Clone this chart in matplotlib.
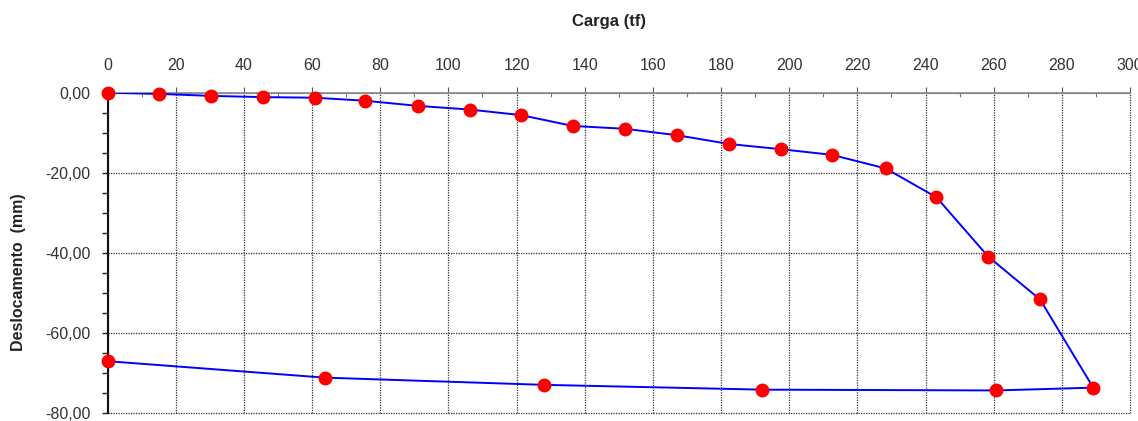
import numpy as np
import matplotlib.pyplot as plt
from matplotlib.ticker import MultipleLocator, FuncFormatter

plt.rcParams['font.family'] = ['Liberation Sans', 'DejaVu Sans']

# load test: loading branch then unloading branch
carga_load = [0, 15.2, 30.4, 45.6, 60.8, 75.5, 91.2, 106.2, 121.4, 136.5,
              151.8, 167.0, 182.4, 197.6, 212.5, 228.3, 243.2, 258.4, 273.6, 289.2]
desl_load = [0.0, -0.3, -0.8, -1.1, -1.25, -2.0, -3.3, -4.2, -5.6, -8.3,
             -9.0, -10.6, -12.8, -14.1, -15.5, -18.9, -26.1, -40.9, -51.6, -73.6]

carga_unload = [289.2, 260.7, 192.1, 128.0, 63.7, 0]
desl_unload = [-73.6, -74.3, -74.1, -72.9, -71.1, -67.0]

carga = carga_load + carga_unload[1:]
desl = desl_load + desl_unload[1:]


def fmt_virgula(v, pos):
    return ('%.2f' % v).replace('.', ',')


fig = plt.figure(figsize=(11.38, 4.21), dpi=100)
ax = fig.add_axes([0.0945, 0.0183, 0.8985, 0.7615])

ax.plot(carga, desl, color='#0000ff', lw=1.4, zorder=3)
ax.plot(carga, desl, ls='none', marker='o', ms=9, color='#ff0000',
        mec='#ff0000', zorder=4, clip_on=False)

ax.set_xlim(0, 300)
ax.set_ylim(-80, 0)

ax.xaxis.tick_top()
ax.xaxis.set_label_position('top')
ax.xaxis.set_major_locator(MultipleLocator(20))
ax.xaxis.set_minor_locator(MultipleLocator(10))
ax.yaxis.set_major_locator(MultipleLocator(20))
ax.yaxis.set_minor_locator(MultipleLocator(5))
ax.yaxis.set_major_formatter(FuncFormatter(fmt_virgula))

ax.tick_params(axis='x', which='major', direction='out', length=4, width=0.8,
               color='#555555', pad=10, labelsize=11.5, labelcolor='#333333')
ax.tick_params(axis='x', which='minor', direction='in', length=3, width=0.8,
               color='#777777')
ax.tick_params(axis='y', which='both', direction='out', length=4, width=1.0,
               color='#222222', pad=8, labelsize=11.5, labelcolor='#333333')

ax.grid(True, which='major', color='#333333', ls=(0, (1, 1)), lw=0.9)
ax.set_axisbelow(True)
# keep the grid lines on the 300 / -80 limits fully visible
for gl in ax.get_xgridlines() + ax.get_ygridlines():
    gl.set_clip_on(False)

for s in ['right', 'bottom']:
    ax.spines[s].set_visible(False)
ax.spines['top'].set_color('#888888')
ax.spines['top'].set_linewidth(1.2)
ax.spines['left'].set_color('#111111')
ax.spines['left'].set_linewidth(1.5)

ax.set_xlabel('Carga (tf)', fontsize=12, fontweight='bold', color='#222222')
ax.xaxis.set_label_coords(0.49, 1.222)
ax.xaxis.label.set_va('center')
ax.set_ylabel('Deslocamento  (mm)', fontsize=11.5, fontweight='bold', color='#222222')
ax.yaxis.set_label_coords(-0.0875, 0.44)
ax.yaxis.label.set_va('center')

fig.savefig('out.png', dpi=100)
